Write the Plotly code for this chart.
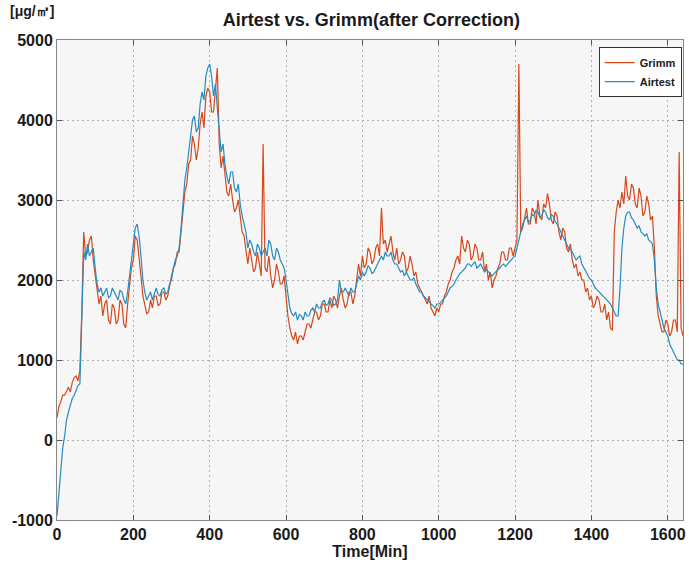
import plotly.graph_objects as go

time_min = list(range(0, 1645, 5))

airtest = [
    -950, -650, -350, -100, 50, 250, 350, 450, 520, 560,
    620, 680, 700, 1600, 2350, 2250, 2450, 2300, 2350, 2400,
    2150, 1950, 1850, 1900, 1800, 1850, 1900, 1780, 1800, 1900,
    1850, 1800, 1750, 1870, 1850, 1760, 1700, 1850, 2050, 2300,
    2450, 2650, 2700, 2550, 2300, 2000, 1850, 1750, 1800, 1850,
    1750, 1830, 1900, 1820, 1800, 1880, 1900, 1820, 1850, 1950,
    2000, 2150, 2250, 2300, 2400, 2650, 3000, 3250, 3400, 3600,
    3750, 4000, 4050, 3850, 3900, 4200, 4350, 4250, 4550, 4650,
    4700, 4550, 4300, 4450, 4150, 3850, 3600, 3700, 3450, 3300,
    3200, 3350, 3350, 3150, 3100, 3200, 2950, 2800, 2700, 2600,
    2400, 2500, 2450, 2350, 2300, 2450, 2400, 2300, 2350, 2400,
    2300, 2500, 2450, 2300, 2250, 2400, 2350, 2250, 2200, 2150,
    2000, 1800, 1650, 1580, 1550, 1600, 1500, 1570, 1550, 1500,
    1600, 1550, 1550, 1620, 1650, 1600, 1700, 1650, 1650, 1720,
    1750, 1680, 1700, 1780, 1750, 1680, 1700, 1750, 2000, 1850,
    1850, 1900, 1850, 1800, 1900, 1850, 1850, 1950, 2050, 2000,
    2100, 2050, 2100, 2180, 2150, 2080, 2100, 2150, 2200, 2250,
    2300, 2250, 2350, 2300, 2300, 2350, 2250, 2200, 2200, 2150,
    2100, 2120, 2050, 2100, 2050, 2000, 2000, 2030, 1950, 1900,
    1850, 1850, 1800, 1780, 1750, 1720, 1700, 1680, 1650, 1700,
    1700, 1720, 1750, 1780, 1800, 1850, 1900, 1920, 1950, 2000,
    2050, 2080, 2100, 2130, 2150, 2200, 2200, 2170, 2200, 2230,
    2150, 2180, 2200, 2150, 2100, 2130, 2100, 2070, 2050, 2080,
    2100, 2130, 2150, 2180, 2200, 2170, 2200, 2230, 2250, 2280,
    2300, 2400, 2500, 2600, 2700, 2750, 2800, 2720, 2750, 2820,
    2800, 2870, 2850, 2780, 2800, 2880, 2850, 2780, 2750, 2820,
    2800, 2730, 2700, 2650, 2600, 2550, 2500, 2450, 2400, 2380,
    2350, 2300, 2250, 2280, 2300, 2200, 2150, 2100, 2050, 2020,
    2000, 1950, 1900, 1880, 1850, 1820, 1800, 1780, 1750, 1720,
    1700, 1650, 1600, 1550, 1550, 1900, 2400, 2650, 2800, 2850,
    2850, 2780, 2750, 2700, 2650, 2680, 2600, 2580, 2550, 2580,
    2500, 2480, 2450, 2250, 1900, 1700, 1600, 1500, 1400, 1350,
    1300, 1200, 1150, 1100, 1050, 1000, 1000, 950, 950,
]

grimm = [
    280, 420, 480, 560, 560, 620, 660, 600, 720, 780,
    800, 740, 870, 1600, 2600, 2300, 2350, 2500, 2550, 2250,
    2050, 1850, 1700, 1800, 1550, 1700, 1750, 1500, 1450, 1700,
    1650, 1450, 1500, 1750, 1700, 1450, 1400, 1700, 1950, 2150,
    2250, 2550, 2500, 2300, 2050, 1800, 1700, 1580, 1600, 1750,
    1650, 1800, 1800, 1680, 1700, 1850, 1850, 1750, 1800, 1950,
    2050, 2150, 2200, 2350, 2350, 2600, 2900, 3100, 3200, 3450,
    3500, 3800, 3700, 3500, 3650, 3950, 4100, 3900, 4300, 4400,
    4350, 4100, 4100, 4350, 4650, 3700, 3400, 3550, 3300, 3100,
    3050, 3200, 3000, 2850, 2900, 3000, 2800, 2600, 2550, 2350,
    2200, 2400, 2250, 2100, 2150, 2350, 2200, 2050, 3700, 2150,
    2100, 2300, 2050, 1900, 2000, 2200, 2100, 1950, 1950, 2050,
    1800, 1550, 1400, 1300, 1250, 1350, 1200, 1300, 1300, 1250,
    1350, 1450, 1450, 1400, 1500, 1600, 1600, 1500, 1550, 1700,
    1700, 1600, 1600, 1750, 1650, 1800, 1750, 1650, 1800, 1900,
    1750, 1650, 1700, 1850, 1850, 1700, 1800, 2000, 2200, 2050,
    2300, 2150, 2200, 2400, 2350, 2200, 2250, 2400, 2450, 2300,
    2900, 2450, 2500, 2350, 2450, 2550, 2350, 2250, 2400, 2200,
    2250, 2350, 2300, 2100, 2150, 2300, 2200, 2050, 2100, 1950,
    1900, 1850, 1800, 1750, 1700, 1800, 1650, 1600, 1550, 1650,
    1600, 1700, 1700, 1800, 1850, 1950, 2000, 2100, 2150, 2250,
    2300, 2200, 2550, 2400, 2350, 2500, 2450, 2250, 2300, 2450,
    2400, 2250, 2250, 2350, 2100, 2200, 2000, 2100, 1900, 2000,
    2050, 2150, 2200, 2350, 2350, 2250, 2250, 2400, 2400, 2300,
    2400, 2500, 4700, 2600, 2650, 2800, 2900, 2700, 2700, 2900,
    2850, 2700, 3000, 2800, 2750, 2950, 2900, 3080, 2950, 2750,
    2700, 2850, 2800, 2600, 2500, 2650, 2600, 2400, 2350, 2450,
    2250, 2150, 2200, 2050, 2100, 2000, 2000, 1850, 1900, 1750,
    1800, 1650, 1700, 1800, 1750, 1600, 1600, 1700, 1500, 1600,
    1400, 1370, 2600, 2850, 3000, 2900, 3100, 2950, 3300, 3050,
    3000, 3200, 3150, 2950, 2900, 3150, 3050, 2800, 2850, 3050,
    2950, 2750, 2800, 2400, 1800, 1550, 1450, 1350, 1350, 1500,
    1450, 1300, 1350, 1500, 1500, 1350, 3600, 1400, 1300,
]

x_ticks = [0, 200, 400, 600, 800, 1000, 1200, 1400, 1600]
y_ticks = [-1000, 0, 1000, 2000, 3000, 4000, 5000]
y_tick_text = ["-1000", "0", "1000", "2000", "3000", "4000", "5000"]

fig = go.Figure()
fig.add_trace(go.Scatter(x=time_min, y=grimm, mode="lines", name="Grimm",
                         line=dict(color="rgb(214,72,28)", width=1.2)))
fig.add_trace(go.Scatter(x=time_min, y=airtest, mode="lines", name="Airtest",
                         line=dict(color="rgb(38,140,190)", width=1.2)))

FONT = "Liberation Sans, Arial, sans-serif"
axis_font = dict(family=FONT, size=16, color="#1a1a1a", weight="bold")

fig.update_layout(
    width=689, height=567,
    margin=dict(l=57, r=3, t=40, b=47),
    paper_bgcolor="white",
    plot_bgcolor="#f6f6f6",
    title=dict(text="Airtest vs. Grimm(after Correction)", x=0.539, xanchor="center",
               y=0.966, yanchor="middle",
               font=dict(family=FONT, size=18, color="#1a1a1a", weight="bold")),
    showlegend=True,
    legend=dict(x=0.998, y=0.985, xanchor="right", yanchor="top",
                bgcolor="white", bordercolor="#333333", borderwidth=1,
                font=dict(family=FONT, size=11, color="#1a1a1a", weight="bold"),
                itemwidth=30, tracegroupgap=0),
    xaxis=dict(range=[0, 1640], tickvals=x_ticks, ticks="inside", ticklen=5,
               tickcolor="#555555", mirror="ticks", showline=True, linecolor="#888888",
               linewidth=1, showgrid=True, gridcolor="#b0b0b0", griddash="2px,3px",
               zeroline=False, tickfont=axis_font,
               title=dict(text="Time[Min]", font=axis_font, standoff=0)),
    yaxis=dict(range=[-1000, 5000], tickvals=y_ticks, ticktext=y_tick_text,
               ticks="inside", ticklen=5,
               tickcolor="#555555", mirror="ticks", showline=True, linecolor="#888888",
               linewidth=1, showgrid=True, gridcolor="#b0b0b0", griddash="2px,3px",
               zeroline=False, tickfont=axis_font),
    annotations=[dict(text="[μg/㎥]", xref="paper", yref="paper", x=-0.078, y=1.04,
                      xanchor="left", yanchor="bottom", showarrow=False,
                      font=dict(family=FONT, size=14, color="#1a1a1a", weight="bold"))],
)

fig.write_html("out.html")
